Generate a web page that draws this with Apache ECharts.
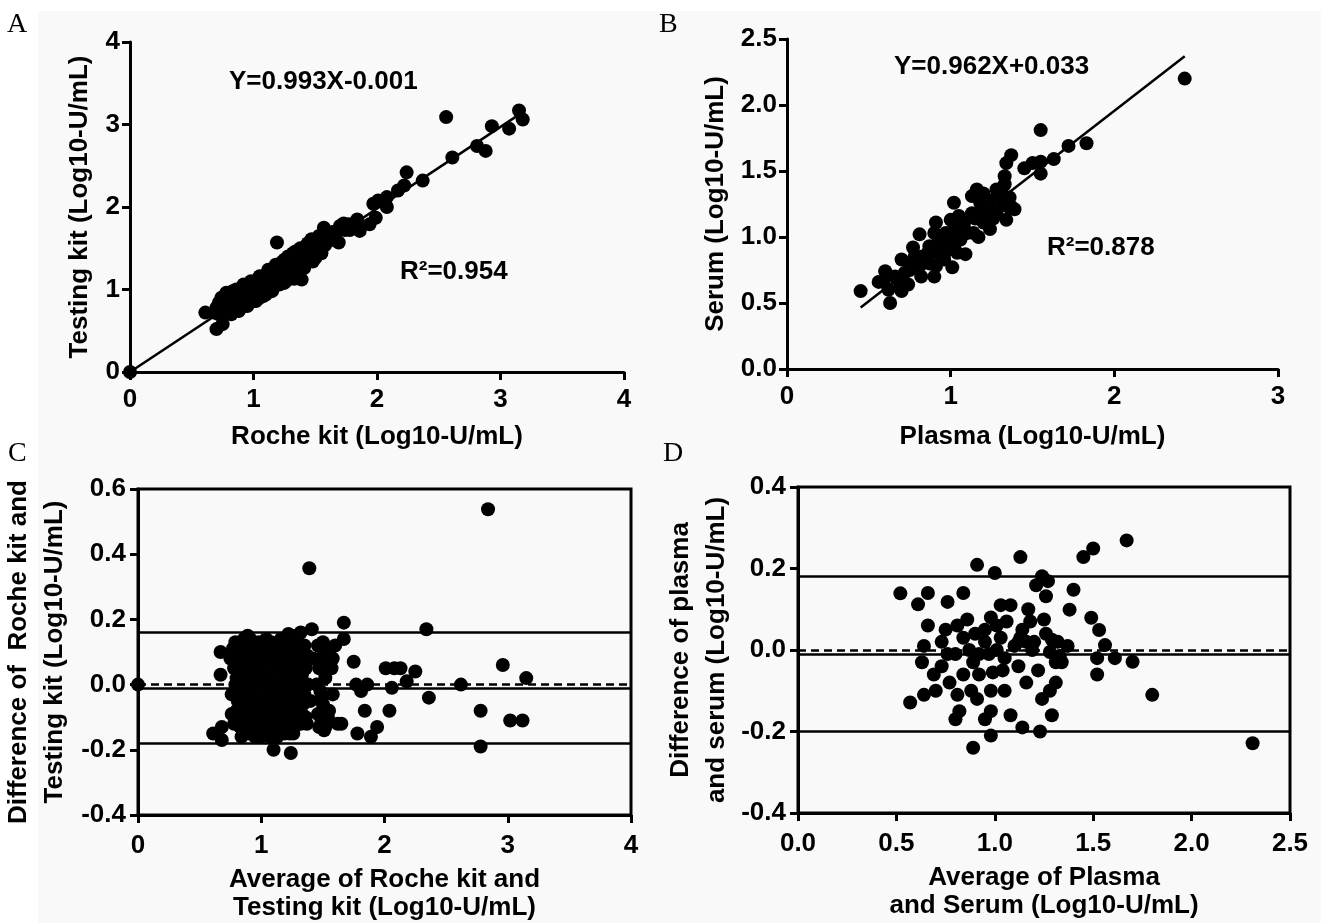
<!DOCTYPE html>
<html><head><meta charset="utf-8">
<script src="https://cdn.jsdelivr.net/npm/echarts@6/dist/echarts.min.js"></script>
<style>html,body{margin:0;padding:0;background:#fff}#c{width:1321px;height:923px}</style>
</head><body><div id="c"></div>
<script>
// ---------- DATA ----------
// Panel A: Roche kit (x) vs Testing kit (y)
const pointsA = [
 [0,0],[0.61,0.72],[0.70,0.52],[0.75,0.58],[0.68,0.72],[0.70,0.78],[0.72,0.84],[0.75,0.80],[0.78,0.88],[0.80,0.82],
 [0.82,0.92],[0.84,0.76],[0.85,0.86],[0.87,0.95],[0.88,0.80],[0.90,0.90],[0.92,0.98],[0.93,0.84],[0.95,0.92],[0.96,1.02],
 [0.98,0.88],[1.00,0.97],[1.01,1.06],[1.02,0.92],[1.04,1.00],[1.05,1.10],[1.06,0.95],[1.08,1.04],[1.09,1.14],[1.10,0.98],
 [1.12,1.08],[1.13,1.18],[1.14,1.02],[1.16,1.12],[1.17,1.22],[1.18,1.05],[1.20,1.15],[1.21,1.26],[1.22,1.10],[1.24,1.20],
 [1.25,1.30],[1.26,1.14],[1.28,1.24],[1.29,1.34],[1.30,1.18],[1.32,1.28],[1.33,1.38],[1.35,1.24],[1.36,1.33],[1.38,1.42],
 [1.40,1.30],[1.42,1.38],[1.44,1.48],[1.46,1.40],[1.48,1.52],[1.50,1.44],[1.52,1.58],[1.54,1.50],[1.56,1.62],[1.58,1.54],
 [1.62,1.66],[1.66,1.62],[0.90,0.78],[0.95,0.82],[1.00,0.86],[1.05,0.90],[1.10,0.94],[0.98,1.04],[1.03,1.10],[1.12,1.20],
 [1.22,1.32],[1.27,1.36],[1.34,1.46],[0.80,0.95],[0.86,1.00],[1.15,0.98],[1.25,1.08],[1.35,1.16],[1.45,1.34],[1.50,1.38],
 [1.55,1.44],[1.19,1.57],[1.33,1.13],[1.47,1.61],[1.53,1.65],[1.57,1.75],[1.69,1.57],[1.70,1.77],[1.77,1.79],[1.74,1.72],
 [1.73,1.80],[1.78,1.72],[1.83,1.78],[1.80,1.75],[1.84,1.85],[1.86,1.71],[1.94,1.79],[1.99,1.87],[1.97,2.04],[2.01,2.08],
 [2.08,2.00],[2.08,2.12],[2.17,2.20],[2.22,2.26],[2.24,2.42],[2.37,2.32],[2.56,3.09],[2.61,2.60],[2.81,2.74],[2.88,2.68],
 [2.93,2.98],[3.07,2.95],[3.15,3.17],[3.18,3.06],
 [0.72,0.70],[0.74,0.90],[0.76,0.74],[0.77,0.92],[0.79,0.78],[0.81,0.88],[0.83,0.98],[0.84,0.84],[0.86,0.92],[0.88,1.00],
 [0.89,0.86],[0.91,0.94],[0.93,1.04],[0.94,0.88],[0.96,0.96],[0.97,0.86],[0.99,0.98],[1.00,1.08],[1.02,1.02],[1.03,0.94],
 [1.04,1.12],[1.06,1.04],[1.07,0.98],[1.08,1.16],[1.10,1.08],[1.11,1.00],[1.12,1.14],[1.14,1.08],[1.15,1.24],[1.16,1.04],
 [1.18,1.18],[1.19,1.10],[1.20,1.28],[1.22,1.20],[1.23,1.14],[1.24,1.34],[1.26,1.24],[1.27,1.18],[1.28,1.40],[1.30,1.28],
 [1.31,1.22],[1.32,1.44],[1.34,1.32],[1.36,1.26],[1.37,1.48],[1.38,1.36],[1.40,1.40],[1.41,1.50],[1.43,1.42],[1.45,1.54],
 [1.47,1.46],[1.49,1.56],[1.51,1.50],[1.53,1.60],[1.56,1.52],[1.58,1.66],[1.60,1.60],[1.63,1.60],[1.65,1.70],
 [0.85,0.98],[0.88,0.74],[0.92,1.06],[0.95,0.80],[0.98,1.10],[1.02,0.86],[1.05,1.16],[1.08,0.92],[1.12,1.24],[1.15,0.99],
 [1.18,1.30],[1.21,1.06],[1.25,1.36],[1.28,1.12],[1.31,1.40],[1.34,1.20],[1.38,1.50],[1.41,1.26],[1.44,1.56],[1.48,1.34],
 [0.82,0.70],[0.78,0.96],[1.39,1.12]
];
const fitA = [[0, 0], [3.15, 3.12]];

// Panel B: Plasma (x) vs Serum (y)
const pointsB = [
 [2.43,2.20],[1.55,1.81],[1.83,1.71],[1.72,1.69],[1.63,1.59],[1.55,1.57],[1.50,1.56],[1.45,1.52],[1.55,1.48],[1.37,1.62],
 [1.34,1.56],[1.33,1.46],[1.33,1.40],[1.39,1.21],[1.34,1.13],[1.36,1.30],[1.24,1.06],[1.17,1.00],[1.02,1.26],[1.01,0.77],
 [0.91,1.11],[0.81,1.02],[0.77,0.92],[0.70,0.83],[0.59,0.66],[0.56,0.66],[0.60,0.74],[0.45,0.59],[0.63,0.50],[0.70,0.59],
 [0.74,0.64],[0.62,0.60],[0.82,0.70],[0.90,0.70],[0.87,0.80],[0.92,0.88],[0.97,0.89],[1.09,0.87],[1.02,0.93],[0.86,0.88],
 [1.02,1.06],[1.08,1.08],[1.13,1.18],[1.18,1.26],[1.13,1.31],[1.20,1.33],[1.16,1.36],[1.26,1.28],[1.30,1.31],[1.28,1.18],
 [1.26,1.14],[1.20,1.11],[1.14,1.03],[1.10,1.03],[1.06,0.98],[0.97,0.98],[0.92,1.01],[0.97,1.03],[1.00,1.13],[0.93,0.95],
 [0.87,0.93],[0.82,0.85],[0.77,0.80],[0.72,0.73],[0.75,0.75],[0.78,0.85],[0.90,1.03],[1.05,1.16],[1.18,1.18],[1.23,1.23],
 [1.31,1.26],[1.35,1.23],[1.37,1.23],[1.31,1.35],[1.28,1.36],[1.20,1.18],[1.15,1.14],[1.08,1.11],[1.04,1.01],[1.00,0.93],
 [1.04,0.88],[0.96,0.83],[0.91,0.78],[0.81,0.78],[0.69,0.65],[0.66,0.70]
];
const fitB = [[0.45, 0.466], [2.43, 2.37]];

// Panel C: average (x) vs difference (y), Roche vs Testing kit
const pointsC = [
 [0,0],[2.84,0.538],[1.39,0.357],[1.67,0.19],[1.41,0.17],[2.34,0.17],[1.67,0.14],[1.75,0.07],[2.96,0.06],[2.01,0.05],
 [2.08,0.05],[2.13,0.05],[2.25,0.04],[2.18,0.01],[3.15,0.02],[2.62,0.00],[2.06,-0.01],[1.77,0.00],[1.86,0.00],[1.81,-0.02],
 [2.36,-0.04],[2.04,-0.08],[1.84,-0.08],[2.78,-0.08],[3.02,-0.11],[3.12,-0.11],[1.94,-0.13],[1.78,-0.15],[1.89,-0.16],[2.78,-0.19],
 [1.10,-0.20],[1.24,-0.21],[0.67,0.10],[0.67,0.03],[0.61,-0.15],[0.68,-0.17],[0.68,-0.13],[0.89,0.15],[1.22,0.155],[1.32,0.16],
 [1.65,-0.12],[1.49,-0.11],[1.51,-0.14],
 [0.75,0.08],[0.76,-0.03],[0.78,0.05],[0.80,-0.08],[0.80,0.12],[0.82,0.02],[0.83,-0.13],[0.84,0.09],[0.85,-0.05],[0.86,0.14],
 [0.87,0.00],[0.88,-0.10],[0.89,0.06],[0.90,-0.15],[0.91,0.11],[0.92,-0.02],[0.93,0.04],[0.94,-0.08],[0.95,0.12],[0.96,-0.12],
 [0.97,0.01],[0.98,0.07],[0.99,-0.05],[1.00,-0.16],[1.00,0.10],[1.01,0.03],[1.02,-0.09],[1.03,0.13],[1.04,-0.02],[1.05,0.06],
 [1.06,-0.13],[1.07,0.09],[1.08,-0.06],[1.09,0.01],[1.10,0.12],[1.10,-0.16],[1.11,-0.03],[1.12,0.05],[1.13,-0.10],[1.14,0.10],
 [1.15,-0.07],[1.16,0.02],[1.17,-0.14],[1.18,0.08],[1.19,-0.01],[1.20,0.13],[1.21,-0.11],[1.22,0.04],[1.23,-0.05],[1.24,0.11],
 [1.25,-0.13],[1.26,0.00],[1.27,0.07],[1.28,-0.08],[1.29,0.14],[1.30,-0.03],[1.31,0.09],[1.32,-0.12],[1.33,0.03],[1.34,-0.06],
 [1.35,0.12],[1.36,-0.10],[0.92,-0.13],[0.97,-0.15],[1.03,-0.14],[1.15,-0.15],[1.26,-0.15],[0.88,0.13],[0.95,0.02],[1.05,-0.01],
 [1.12,-0.08],[1.18,-0.04],[1.22,0.09],[1.08,0.13],[0.98,0.13],[1.28,0.11],[1.33,-0.01],[0.84,-0.03],[0.79,0.13],[0.82,0.10],
 [0.86,-0.14],[1.46,0.12],[1.48,0.08],[1.50,0.13],[1.51,0.04],[1.48,-0.02],[1.50,-0.06],[1.46,-0.09],[1.52,-0.13],[1.55,0.11],
 [1.57,0.05],[1.58,-0.03],[1.55,-0.08],[1.60,0.12],[1.62,-0.12],[1.45,0.00],[1.40,-0.05],[1.42,0.08],[1.52,0.02],[1.58,0.08],
 [0.78,-0.12],[0.79,0.00],[0.81,0.07],[0.81,-0.05],[0.83,0.12],[0.83,-0.02],[0.85,0.05],[0.85,-0.11],[0.87,0.10],[0.87,-0.07],
 [0.89,-0.02],[0.89,-0.13],[0.90,0.03],[0.91,-0.06],[0.92,0.08],[0.93,-0.10],[0.94,0.13],[0.94,0.00],[0.95,-0.04],[0.96,0.06],
 [0.97,-0.09],[0.98,0.11],[0.99,0.02],[0.99,-0.13],[1.00,0.05],[1.01,-0.07],[1.02,0.12],[1.02,-0.01],[1.03,0.07],[1.04,-0.11],
 [1.05,0.10],[1.05,-0.04],[1.06,0.02],[1.07,-0.09],[1.08,0.06],[1.09,-0.13],[1.09,0.10],[1.10,-0.01],[1.11,0.07],[1.12,-0.12],
 [1.13,0.12],[1.13,0.00],[1.14,-0.05],[1.15,0.06],[1.16,-0.10],[1.17,0.11],[1.17,0.00],[1.18,-0.07],[1.19,0.04],[1.20,-0.13],
 [1.20,0.08],[1.21,-0.02],[1.22,0.13],[1.23,-0.09],[1.24,0.02],[1.25,0.07],[1.25,-0.05],[1.26,-0.11],[1.27,0.12],[1.27,-0.01],
 [1.28,0.04],[1.29,-0.06],[1.30,0.10],[1.30,-0.12],[1.31,0.01],[1.32,0.06],[1.33,-0.09],[1.34,0.11],[1.35,-0.03],[1.36,0.05],
 [1.37,-0.12],[1.37,0.09],[1.38,0.00],[0.80,0.02],[0.86,0.03],[0.91,0.02],[1.01,-0.15],[1.07,-0.16],[1.13,-0.16],[1.19,-0.15],
 [1.23,-0.15],[0.95,-0.16],[0.91,0.14],[1.04,0.14],[1.16,0.14],[1.25,0.15],[1.14,0.13],[0.84,-0.16],[0.77,0.11],[0.76,-0.09],
 [1.47,0.05],[1.49,-0.04],[1.53,0.06],[1.54,-0.10],[1.47,-0.13],[1.51,0.10]
];
const limitsC = [0.158, -0.01, -0.178];   // upper LoA, mean bias, lower LoA

// Panel D: average (x) vs difference (y), Plasma vs Serum
const pointsD = [
 [1.67,0.269],[1.50,0.249],[1.45,0.228],[1.13,0.228],[0.91,0.209],[1.00,0.189],[1.24,0.181],[1.27,0.169],[1.21,0.159],[1.40,0.148],
 [0.52,0.139],[0.66,0.140],[0.84,0.140],[0.76,0.118],[0.61,0.112],[1.26,0.132],[1.38,0.099],[1.49,0.079],[1.53,0.049],[1.56,0.012],
 [1.52,-0.02],[1.61,-0.02],[1.70,-0.029],[1.52,-0.06],[1.80,-0.11],[2.31,-0.229],[0.57,-0.129],[0.64,-0.11],[0.70,-0.10],[0.63,-0.03],
 [0.64,0.01],[0.66,0.06],[0.73,0.02],[0.75,0.05],[0.76,-0.01],[0.73,-0.04],[0.69,-0.06],[0.77,-0.08],[0.81,-0.11],[0.82,-0.15],
 [0.80,-0.17],[0.89,-0.24],[0.95,-0.17],[0.98,-0.15],[0.98,-0.21],[1.08,-0.16],[1.14,-0.19],[1.23,-0.20],[1.29,-0.16],[1.24,-0.12],
 [1.31,-0.08],[1.28,-0.10],[1.16,-0.08],[1.22,-0.05],[1.12,-0.04],[1.05,-0.10],[0.98,-0.10],[0.92,-0.06],[0.91,-0.12],[0.88,-0.10],
 [0.84,-0.06],[0.80,-0.01],[0.84,0.03],[0.86,0.075],[0.81,0.06],[0.90,0.04],[0.95,0.05],[0.98,0.08],[0.95,0.02],[0.92,-0.01],
 [1.01,0.06],[1.03,0.11],[1.08,0.11],[1.06,0.07],[1.03,0.03],[1.01,0.00],[1.05,-0.02],[1.10,0.01],[1.13,0.03],[1.14,0.05],
 [1.17,0.10],[1.18,0.07],[1.16,0.02],[1.19,0.00],[1.25,0.075],[1.26,0.04],[1.29,0.025],[1.32,0.02],[1.28,-0.005],[1.33,-0.015],
 [1.34,-0.03],[1.37,0.01],[1.31,-0.03],[1.20,0.02],[1.12,0.02],[0.97,-0.01],[0.87,0.00],[0.89,-0.03],[1.04,-0.05],[0.99,-0.055]
];
const limitsD = [0.184, -0.0075, -0.199];  // upper LoA, mean bias, lower LoA
const zeroLine = 0;

// Text
const titlesX = ['Roche kit (Log10-U/mL)', 'Plasma (Log10-U/mL)',
  'Average of Roche kit and\nTesting kit (Log10-U/mL)', 'Average of Plasma\nand Serum (Log10-U/mL)'];
const titlesY = ['Testing kit (Log10-U/mL)', 'Serum (Log10-U/mL)',
  'Difference of  Roche kit and\nTesting kit (Log10-U/mL)', 'Difference of plasma\nand serum (Log10-U/mL)'];
const equations = ['Y=0.993X-0.001', 'Y=0.962X+0.033'];
const r2Labels = ['R²=0.954', 'R²=0.878'];
const panelLetters = ['A', 'B', 'C', 'D'];

// ---------- CHART ----------
const FONT = 'Liberation Sans, Arial, sans-serif';
const T = { fontFamily: FONT, fontWeight: 'bold', fontSize: 26, color: '#000' };
const fmt1 = v => (Math.abs(v) < 1e-9 ? 0 : v).toFixed(1);
const fmt0 = v => String(Math.round(v));

function xAx(gi, min, max, interval, fmt, name, gap, margin) {
  return {
    type: 'value', gridIndex: gi, min, max, interval,
    axisLine: { show: true, onZero: false, lineStyle: { color: '#000', width: 3 } },
    axisTick: { show: true, length: 8, lineStyle: { color: '#000', width: 3 } },
    axisLabel: { ...T, margin, formatter: fmt },
    splitLine: { show: false },
    name, nameLocation: 'middle', nameGap: gap,
    nameTextStyle: { ...T, lineHeight: 28 }
  };
}
function yAx(gi, min, max, interval, fmt, name, gap, margin) {
  return {
    type: 'value', gridIndex: gi, min, max, interval,
    axisLine: { show: true, onZero: false, lineStyle: { color: '#000', width: 3 } },
    axisTick: { show: true, length: 8, lineStyle: { color: '#000', width: 3 } },
    axisLabel: { ...T, margin, formatter: fmt },
    splitLine: { show: false },
    name, nameLocation: 'middle', nameGap: gap,
    nameTextStyle: { ...T, lineHeight: 36 }
  };
}
function scatter(i, data) {
  return { type: 'scatter', xAxisIndex: i, yAxisIndex: i, data, symbolSize: 14,
    itemStyle: { color: '#000', opacity: 1 }, silent: true, z: 3 };
}
function fitLine(i, data) {
  return { type: 'line', xAxisIndex: i, yAxisIndex: i, data, showSymbol: false, symbol: 'none',
    lineStyle: { color: '#000', width: 2.5 }, silent: true, z: 4 };
}
function baLines(i, limits) {
  const solid = { color: '#000', width: 2.5, type: 'solid' };
  return { type: 'scatter', xAxisIndex: i, yAxisIndex: i, data: [], silent: true,
    markLine: { symbol: 'none', silent: true, animation: false, label: { show: false },
      data: [
        ...limits.map(v => ({ yAxis: v, lineStyle: solid })),
        { yAxis: zeroLine, lineStyle: { color: '#000', width: 2.5, type: [8, 5] } }
      ] } };
}

const grids = [
  { left: 130, top: 42, width: 494, height: 330 },
  { left: 787, top: 39, width: 491, height: 330 },
  { left: 138, top: 489, width: 493, height: 326, show: true, borderColor: '#000', borderWidth: 3, backgroundColor: 'transparent' },
  { left: 798, top: 487, width: 492, height: 326, show: true, borderColor: '#000', borderWidth: 3, backgroundColor: 'transparent' }
];

const txt = (text, x, y, extra) => ({ type: 'text', x, y, style: { text, ...T, align: 'left', verticalAlign: 'middle', ...extra } });
const letter = (text, x, y) => ({ type: 'text', x, y, style: { text, fontFamily: 'Liberation Serif, serif', fontSize: 28, fill: '#000', align: 'left', verticalAlign: 'top' } });

const option = {
  backgroundColor: '#f9f9f9',
  animation: false,
  grid: grids,
  xAxis: [
    xAx(0, 0, 4, 1, fmt0, titlesX[0], 51, 15),
    xAx(1, 0, 3, 1, fmt0, titlesX[1], 54, 15),
    xAx(2, 0, 4, 1, fmt0, titlesX[2], 51, 18),
    xAx(3, 0, 2.5, 0.5, fmt1, titlesX[3], 51, 18)
  ],
  yAxis: [
    yAx(0, 0, 4, 1, fmt0, titlesY[0], 32, 10),
    yAx(1, 0, 2.5, 0.5, fmt1, titlesY[1], 53, 10),
    yAx(2, -0.4, 0.6, 0.2, fmt1, titlesY[2], 65, 12),
    yAx(3, -0.4, 0.4, 0.2, fmt1, titlesY[3], 63, 12)
  ],
  series: [
    scatter(0, pointsA), fitLine(0, fitA),
    scatter(1, pointsB), fitLine(1, fitB),
    baLines(2, limitsC), scatter(2, pointsC),
    baLines(3, limitsD), scatter(3, pointsD)
  ],
  graphic: [
    { type: 'rect', shape: { x: 0, y: 0, width: 38, height: 923 }, style: { fill: '#fff' }, z: -10 },
    { type: 'rect', shape: { x: 0, y: 0, width: 1321, height: 11 }, style: { fill: '#fff' }, z: -10 },
    letter(panelLetters[0], 7, 11), letter(panelLetters[1], 659, 11),
    letter(panelLetters[2], 8, 440), letter(panelLetters[3], 663, 440),
    txt(equations[0], 229, 82), txt(r2Labels[0], 400, 272),
    txt(equations[1], 894, 67), txt(r2Labels[1], 1047, 248)
  ]
};
const chart = echarts.init(document.getElementById('c'), null, { renderer: 'canvas' });
chart.setOption(option);
</script></body></html>
